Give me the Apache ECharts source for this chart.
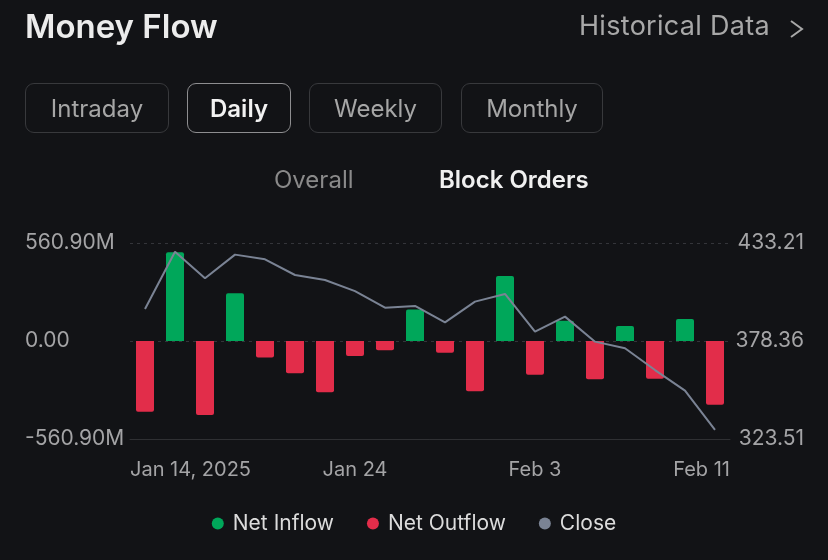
<!DOCTYPE html>
<html>
<head>
<meta charset="utf-8">
<script src="https://cdn.jsdelivr.net/npm/echarts@6/dist/echarts.min.js"></script>
<style>
  html, body { margin: 0; padding: 0; background: #121316; }
  body { width: 828px; height: 560px; position: relative; overflow: hidden; font-family: Inter, "Noto Sans", sans-serif; }
  .title { position: absolute; left: 25px; top: 10px; font-size: 33px; line-height: 33px; font-weight: 600; color: #ececec; letter-spacing: 0px; }
  .hist { position: absolute; left: 579px; top: 11px; font-size: 27px; line-height: 30px; color: #a8a8a8; letter-spacing: 0.3px; }
  .chev { position: absolute; left: 788px; top: 18px; }
  .btn { position: absolute; top: 83px; height: 50px; box-sizing: border-box; border: 1.5px solid #38393c; border-radius: 9px;
         display: flex; align-items: center; justify-content: center; font-size: 24px; color: #a6a6a6; }
  .btn.on { border-color: #8e8e90; color: #f2f2f2; font-weight: 600; }
  .tab { position: absolute; top: 165px; font-size: 24px; line-height: 30px; color: #8a8a8a; }
  .tab.on { color: #f0f0f0; font-weight: 600; }
  #chart-container { position: absolute; left: 0; top: 0; width: 828px; height: 560px; }
</style>
</head>
<body>
<div id="chart-container"></div>
<div class="title">Money Flow</div>
<div class="hist">Historical Data</div>
<svg class="chev" width="20" height="22"><polyline points="3,3 14,11 3,19" fill="none" stroke="#a8a8a8" stroke-width="2"/></svg>
<div class="btn" style="left:25px;width:144px">Intraday</div>
<div class="btn on" style="left:187px;width:104px">Daily</div>
<div class="btn" style="left:309px;width:133px">Weekly</div>
<div class="btn" style="left:461px;width:142px">Monthly</div>
<div class="tab" style="left:274px">Overall</div>
<div class="tab on" style="left:439px">Block Orders</div>
<script>
// trading days Jan 14 - Feb 11, 2025
var days = ['Jan 14', 'Jan 15', 'Jan 16', 'Jan 17', 'Jan 21', 'Jan 22', 'Jan 23', 'Jan 24',
  'Jan 27', 'Jan 28', 'Jan 29', 'Jan 30', 'Jan 31', 'Feb 3', 'Feb 4', 'Feb 5', 'Feb 6',
  'Feb 7', 'Feb 10', 'Feb 11'];

// net flow per day, millions
var netFlow = [-405, 508, -424, 273, -95, -185, -294, -86, -53, 181, -67, -288, 372, -193,
  116, -219, 86, -216, 126, -365];

var closePrice = [396.3, 428.3, 413.5, 426.7, 424.1, 415.3, 412.5, 406.3, 397.0, 398.0, 388.8,
  400.4, 404.7, 383.6, 392.0, 378.0, 374.3, 362.1, 350.6, 328.6];

var flowTicks = [-560.9, 0, 560.9];
var closeTicks = [323.51, 378.36, 433.21];

// which days get a label on the date axis
var labelDays = [0, 7, 13, 19];
var labelText = ['Jan 14, 2025', 'Jan 24', 'Feb 3', 'Feb 11'];

var GREEN = '#00a75a', RED = '#e22d4a', GREY = '#7a8394';
var labelColor = '#a4a4a6';

var inflow = netFlow.map(function (v) { return v > 0 ? { value: v, itemStyle: { borderRadius: [2, 2, 0, 0] } } : '-'; });
var outflow = netFlow.map(function (v) { return v < 0 ? { value: v, itemStyle: { borderRadius: [0, 0, 2, 2] } } : '-'; });

// label slots on a 0..N value axis, first / last pinned to the edges
var n = days.length;
var labelSlots = labelDays.map(function (d, i) {
  if (i === 0 && d === 0) return 0;
  if (i === labelDays.length - 1 && d === n - 1) return n;
  return d + 0.5;
});

var myChart = echarts.init(document.getElementById('chart-container'), null, { renderer: 'canvas' });

var option = {
  backgroundColor: 'transparent',
  animation: false,
  textStyle: { fontFamily: 'Inter, "Noto Sans", sans-serif' },
  grid: { left: 130, right: 98, top: 243, bottom: 121 },
  legend: {
    top: 508,
    left: 'center',
    icon: 'circle',
    itemWidth: 12,
    itemHeight: 12,
    itemGap: 33,
    textStyle: { color: '#dcdcdc', fontSize: 21, padding: [0, 0, 0, 4] },
    data: ['Net Inflow', 'Net Outflow', 'Close']
  },
  xAxis: [{
    type: 'category',
    data: days,
    axisLine: { onZero: false, lineStyle: { color: '#2f3033', width: 1 } },
    axisTick: { show: false },
    axisLabel: { show: false },
    splitLine: { show: false }
  }, {
    type: 'value',
    position: 'bottom',
    min: 0,
    max: n,
    axisLine: { show: false },
    axisTick: { show: false },
    splitLine: { show: false },
    axisLabel: {
      customValues: labelSlots,
      color: labelColor,
      fontSize: 20,
      margin: 21,
      alignMinLabel: 'left',
      alignMaxLabel: 'right',
      formatter: function (v) {
        var i = labelSlots.indexOf(v);
        return i >= 0 ? labelText[i] : '';
      }
    }
  }],
  yAxis: [{
    type: 'value',
    min: flowTicks[0],
    max: flowTicks[2],
    interval: flowTicks[2],
    axisLine: { show: false },
    axisTick: { show: false },
    splitLine: { lineStyle: { color: '#34353a', type: [3, 4], width: 1 } },
    axisLabel: {
      color: labelColor,
      fontSize: 21,
      align: 'left',
      margin: 105,
      formatter: function (v) { return v === 0 ? '0.00' : v.toFixed(2) + 'M'; }
    }
  }, {
    type: 'value',
    min: closeTicks[0],
    max: closeTicks[2],
    axisLine: { show: false },
    axisTick: { show: false },
    splitLine: { show: false },
    axisLabel: {
      customValues: closeTicks,
      color: labelColor,
      fontSize: 21,
      align: 'right',
      margin: 74,
      formatter: function (v) { return v.toFixed(2); }
    }
  }],
  series: [{
    name: 'Net Inflow',
    type: 'bar',
    stack: 'flow',
    barWidth: 18,
    itemStyle: { color: GREEN },
    data: inflow
  }, {
    name: 'Net Outflow',
    type: 'bar',
    stack: 'flow',
    barWidth: 18,
    itemStyle: { color: RED },
    data: outflow
  }, {
    name: 'Close',
    type: 'line',
    yAxisIndex: 1,
    showSymbol: false,
    symbol: 'circle',
    lineStyle: { color: GREY, width: 2 },
    itemStyle: { color: GREY },
    data: closePrice
  }]
};

myChart.setOption(option);
</script>
</body>
</html>
